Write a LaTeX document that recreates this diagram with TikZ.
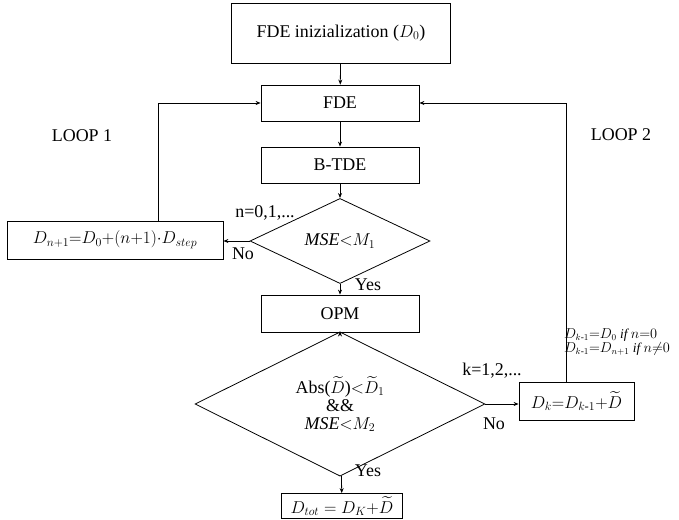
\documentclass[tikz,border=0pt]{standalone}
\usepackage{amsmath,amssymb}
\usepackage{fontspec}
\setmainfont{Liberation Serif}
\usetikzlibrary{arrows.meta,positioning,shapes.geometric,calc}
\tikzset{
  procbox/.style={draw=black,line width=0.8pt,align=center,inner sep=0pt,font=\fontsize{18}{21}\selectfont,fill=white},
  decision/.style={diamond,draw=black,line width=0.8pt,align=center,inner sep=0pt,font=\fontsize{18}{21}\selectfont},
  flowarrow/.style={-{Stealth[length=5bp,width=4bp]},line width=0.8pt,draw=black},
  flowlabel/.style={inner sep=0pt,font=\fontsize{18}{21}\selectfont},
  sidenote/.style={inner sep=0pt,align=left,font=\fontsize{13.5}{13.5}\selectfont\itshape}
}

\begin{document}
\begin{tikzpicture}[x=1bp,y=-1bp]
\useasboundingbox (0,0) rectangle (679,520);
% main column
\node[procbox,minimum width=219bp,minimum height=60bp] (init) at (341,33) {FDE inizialization ($D_0$)};
\node[procbox,minimum width=158bp,minimum height=36bp] (fde) at (340,103) {FDE};
\node[procbox,minimum width=158bp,minimum height=36bp] (btde) at (340,165) {B-TDE};
\node[decision,minimum width=180bp,minimum height=62bp] (mse) at (340,241) {$\mathit{MSE}{<}M_1$};
\node[procbox,minimum width=158bp,minimum height=37bp] (opm) at (340,313.5) {OPM};
\node[decision,minimum width=290bp,minimum height=108bp] (check) at (340,404) {Abs($\widetilde{D}$)${<}\widetilde{D}_1$\\[-3pt]\&\&\\[-3pt]$\mathit{MSE}{<}M_2$};
\node[procbox,minimum width=121bp,minimum height=25bp] (tot) at (342,506) {$D_{tot}=D_K{+}\widetilde{D}$};
% side boxes
\node[procbox,minimum width=216bp,minimum height=38bp] (next) at (115,240) {$D_{n+1}{=}D_0{+}(n{+}1){\cdot}D_{step}$};
\node[procbox,minimum width=115bp,minimum height=38bp] (upd) at (576.5,401) {$D_k{=}D_{k\text{-}1}{+}\widetilde{D}$};

\draw[flowarrow] (init)--(fde);
\draw[flowarrow] (fde)--(btde);
\draw[flowarrow] (btde)--(mse);
\draw[flowarrow] (mse)--(opm);
\draw[flowarrow] (opm)--(check);
\draw[flowarrow] (check)--(tot);
\draw[flowarrow] (mse.west)--(mse.west -| next.east);
\draw[flowarrow] (check.east)--(check.east -| upd.west);
% loops back to FDE
\draw[flowarrow] ([xshift=43bp]next.north) |- (fde.west);
\draw[flowarrow] ([xshift=-10.5bp]upd.north) |- (fde.east);

\node[flowlabel] (loopa) at (82,136) {LOOP 1};
\node[flowlabel] (loopb) at (621,135) {LOOP 2};
\node[flowlabel] (nrange) at (265,213) {n=0,1,...};
\node[flowlabel] (noa) at (243,254) {No};
\node[flowlabel] (yesa) at (368,285) {Yes};
\node[flowlabel] (krange) at (492,371) {k=1,2,...};
\node[flowlabel] (nob) at (494,424) {No};
\node[flowlabel] (yesb) at (368,471) {Yes};
\node[sidenote] (cond) at (617,342) {$D_{k\text{-}1}{=}D_0$ if $n{=}0$\\$D_{k\text{-}1}{=}D_{n+1}$ if $n{\neq}0$};
\end{tikzpicture}
\end{document}
